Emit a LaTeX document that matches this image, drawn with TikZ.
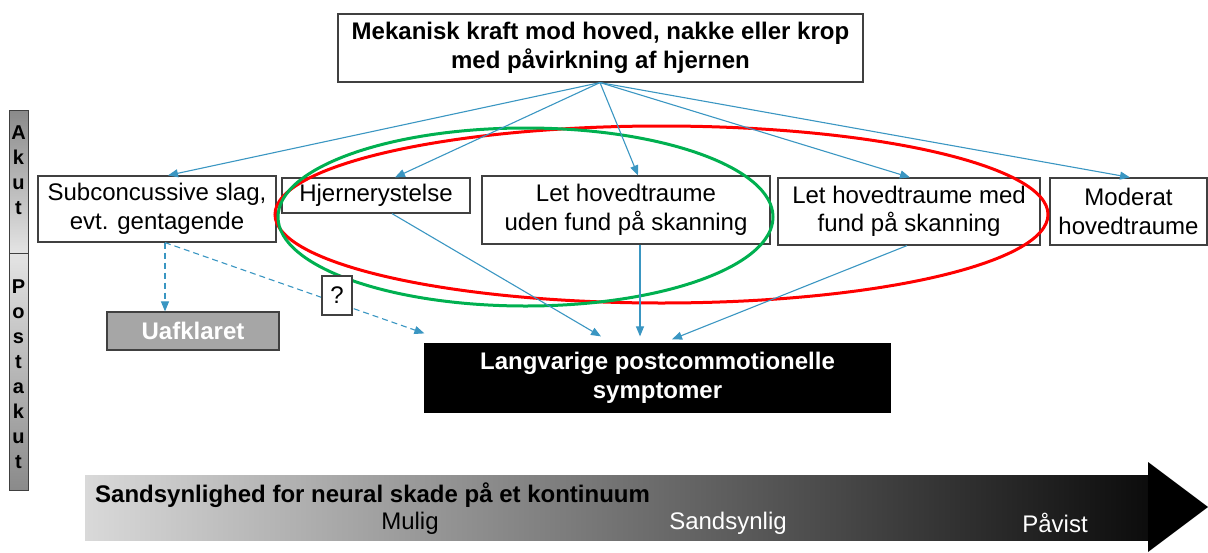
\documentclass[tikz,border=0pt]{standalone}
\usepackage{fontspec}
\setmainfont{Liberation Sans}
\usetikzlibrary{arrows.meta,calc}
\definecolor{arrowblue}{HTML}{3A96C2}
\definecolor{boxgray}{HTML}{404040}
\definecolor{ellgreen}{HTML}{00B050}
\definecolor{ellred}{HTML}{FF0000}
\definecolor{uafgray}{HTML}{A6A6A6}
\definecolor{barlight}{HTML}{E4E4E4}
\definecolor{bardark}{HTML}{8A8A8A}
\definecolor{scalelight}{HTML}{D9D9D9}
\definecolor{scaledark}{HTML}{0C0C0C}
\begin{document}
\begin{tikzpicture}[x=1pt,y=-1pt,
  box/.style={draw=boxgray,line width=1.2pt,fill=white,align=center,inner sep=0pt,
    font=\fontsize{24}{28.5}\selectfont},
  conn/.style={draw=arrowblue,line width=1.1pt,-{Triangle[length=10pt,width=8pt]}},
  dconn/.style={conn,dashed,dash pattern=on 6pt off 4pt},
  ell/.style={line width=3pt},
  barletters/.style={font=\bfseries\fontsize{20}{25}\selectfont,align=center,inner sep=0pt},
  scaletext/.style={font=\fontsize{24}{28}\selectfont,inner sep=0pt}]
\useasboundingbox (0,0) rectangle (1208,552);

% left bar
\shade[top color=bardark,bottom color=barlight] (9,110) rectangle (28,253);
\shade[top color=barlight,bottom color=bardark] (9,253) rectangle (28,490);
\draw[boxgray,line width=1pt] (9,110) rectangle (28,490);
\draw[boxgray,line width=1pt] (9,253) -- (28,253);
\node[barletters] (akut) at (18.5,170.5) {A\\k\\u\\t};
\node[barletters] (postakut) at (18.5,374.5) {P\\o\\s\\t\\a\\k\\u\\t};

% bottom gradient arrow
\shade[left color=scalelight,right color=scaledark] (85,475) rectangle (1149,540);
\fill[black] (1148,462) -- (1208,507) -- (1148,552) -- cycle;
\node[scaletext,font=\bfseries\fontsize{24}{28}\selectfont,anchor=west] (scale) at (95,495) {Sandsynlighed for neural skade på et kontinuum};
\node[scaletext] (mulig) at (410,523) {Mulig};
\node[scaletext,text=white] (sandsynlig) at (728,523) {Sandsynlig};
\node[scaletext,text=white] (pavist) at (1055,523) {Påvist};

% boxes
\node[box,minimum width=525pt,minimum height=68pt,font=\bfseries\fontsize{24}{29}\selectfont] (top) at (600.5,48)
  {Mekanisk kraft mod hoved, nakke eller krop\\med påvirkning af hjernen};
\node[box,minimum width=238pt,minimum height=66pt] (sub) at (157,209) {Subconcussive slag,\\evt. gentagende};
\node[box,minimum width=188pt,minimum height=35pt] (hj) at (376,195.5) {Hjernerystelse};
\node[box,minimum width=288pt,minimum height=68pt] (let1) at (626,210) {Let hovedtraume\\uden fund på skanning};
\node[box,minimum width=262pt,minimum height=67pt] (let2) at (909,211.5) {Let hovedtraume med\\fund på skanning};
\node[box,minimum width=157pt,minimum height=67pt] (mod) at (1128.5,211.5) {Moderat\\hovedtraume};
\node[box,fill=black,draw=black,text=white,minimum width=465pt,minimum height=68pt,font=\bfseries\fontsize{24}{29}\selectfont] (lang) at (657.5,378)
  {Langvarige postcommotionelle\\symptomer};
\node[box,fill=uafgray,text=white,minimum width=172pt,minimum height=38pt,font=\bfseries\fontsize{24}{28}\selectfont] (uaf) at (193,331) {Uafklaret};

% ellipses
\draw[ell,ellred] (661.5,214.5) ellipse [x radius=386.5pt,y radius=88.5pt];
\draw[ell,ellgreen] (525.5,217) ellipse [x radius=247.5pt,y radius=89pt];

% connectors from top
\coordinate (src) at ($(top.south)+(-0.5,0)$);
\draw[conn] (src) -- ($(sub.north)+(11,0)$);
\draw[conn] (src) -- ($(hj.north)+(19,0)$);
\draw[conn] (src) -- ($(let1.north)+(12,0)$);
\draw[conn] (src) -- ($(let2.north)+(1,0)$);
\draw[conn] (src) -- ($(mod.north)+(1.5,0)$);

% connectors to black box
\draw[conn] ($(hj.south)+(16,0)$) -- ($(lang.north)+(-56.5,-7)$);
\draw[conn] ($(let1.south)+(14,0)$) -- ($(lang.north)+(-17.5,-7)$);
\draw[conn] ($(let2.south)+(-2,0)$) -- ($(lang.north)+(14.5,-4)$);

% dashed connectors
\coordinate (subout) at ($(sub.south)+(8,0)$);
\draw[dconn] (subout) -- (subout |- uaf.north);
\draw[dconn] (subout) -- ($(lang.north west)+(0,-10)$);
\node[box,minimum width=30pt,minimum height=39pt] (q) at (337,295.5) {?};
\end{tikzpicture}
\end{document}
